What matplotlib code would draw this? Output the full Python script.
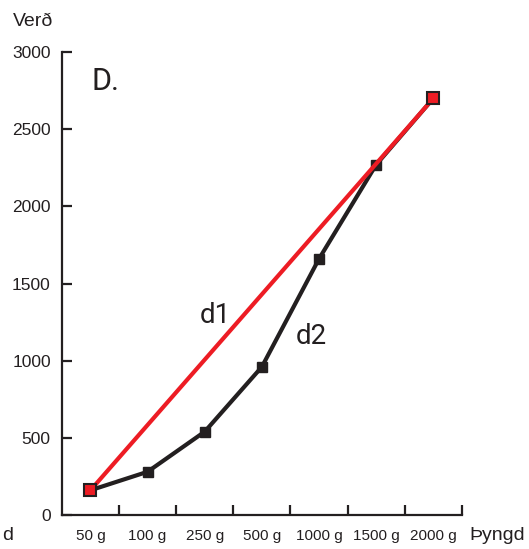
import matplotlib
matplotlib.use("Agg")
import matplotlib.pyplot as plt

# Data
weights = ['50 g', '100 g', '250 g', '500 g', '1000 g', '1500 g', '2000 g']
price_d2 = [160, 280, 540, 960, 1660, 2270, 2700]
y_ticks = [0, 500, 1000, 1500, 2000, 2500, 3000]

plt.rcParams['font.family'] = ['Liberation Sans', 'DejaVu Sans']
narrow = ['Roboto', 'Liberation Sans', 'DejaVu Sans']

fig = plt.figure(figsize=(5.29, 5.49), dpi=100)
ax = fig.add_axes([0.117, 0.062, 0.756, 0.843])

pos = [i + 0.5 for i in range(len(weights))]

# d2: black line through all points
ax.plot(pos, price_d2, color='#231f20', linewidth=3, marker='s',
        markersize=7, markerfacecolor='#231f20', markeredgecolor='#231f20',
        zorder=3, clip_on=False)

# d1: straight red line between first and last point
ax.plot([pos[0], pos[-1]], [price_d2[0], price_d2[-1]], color='#ed1c24',
        linewidth=3, zorder=4, clip_on=False)
ax.plot([pos[0], pos[-1]], [price_d2[0], price_d2[-1]], linestyle='none',
        marker='s', markersize=8, markerfacecolor='#ed1c24',
        markeredgecolor='#231f20', markeredgewidth=1.5, zorder=5, clip_on=False)

ax.set_xlim(0, len(weights))
ax.set_ylim(0, 3000)

for s in ['top', 'right']:
    ax.spines[s].set_visible(False)
for s in ['left', 'bottom']:
    ax.spines[s].set_linewidth(1.6)
    ax.spines[s].set_color('#231f20')

ax.set_yticks(y_ticks)
ax.tick_params(axis='y', direction='in', length=7, width=1.6, color='#231f20',
               labelsize=12.5, pad=8, labelcolor='#231f20')

# major ticks between categories, labels on minor positions
ax.set_xticks(range(1, len(weights) + 1))
ax.set_xticklabels([])
ax.set_xticks(pos, minor=True)
ax.set_xticklabels(weights, minor=True)
ax.tick_params(axis='x', which='major', direction='in', length=7, width=1.6,
               color='#231f20')
ax.tick_params(axis='x', which='minor', length=0, labelsize=11, pad=10,
               labelcolor='#231f20')

# Text annotations
fig.text(13 / 529, 1 - 22 / 549, 'Verð', fontsize=14, color='#231f20',
         va='center', ha='left')
fig.text(469 / 529, 1 - 535 / 549, 'Þyngd', fontsize=14, color='#231f20',
         va='center', ha='left')
fig.text(2 / 529, 1 - 535 / 549, 'd', fontsize=14, color='#231f20',
         va='center', ha='left')
ax.text(0.52, 2810, 'D.', fontsize=22, family=narrow, color='#231f20',
        va='center', ha='left')
ax.text(2.69, 1290, 'd1', fontsize=20, family=narrow, color='#231f20',
        va='center', ha='center')
ax.text(4.36, 1160, 'd2', fontsize=20, family=narrow, color='#231f20',
        va='center', ha='center')

fig.savefig('out.png', dpi=100)
